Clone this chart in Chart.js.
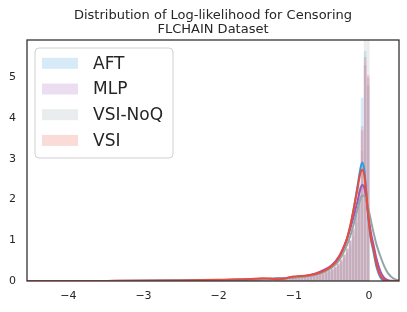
<!DOCTYPE html>
<html>
<head>
<meta charset="utf-8">
<script src="https://cdn.jsdelivr.net/npm/chart.js@4.4.1/dist/chart.umd.min.js"></script>
<style>
html,body{margin:0;padding:0;background:#fff;}
#wrap{width:407px;height:312px;}
</style>
</head>
<body>
<div id="wrap"><canvas id="c" width="407" height="312"></canvas></div>
<script>
const TITLE_LINES = ["Distribution of Log-likelihood for Censoring", "FLCHAIN Dataset"];
const SERIES = ["AFT", "MLP", "VSI-NoQ", "VSI"];
const COLORS = ["#3498db", "#9b59b6", "#95a5a6", "#e74c3c"];
const X_TICKS = [-4, -3, -2, -1, 0];
const Y_TICKS = [0, 1, 2, 3, 4, 5];

// histogram bin centres (bin width 0.04)
const HIST_X = [-1.97,-1.93,-1.89,-1.85,-1.81,-1.77,-1.73,-1.69,-1.65,-1.61,
  -1.57,-1.53,-1.49,-1.45,-1.41,-1.37,-1.33,-1.29,-1.25,-1.21,
  -1.17,-1.13,-1.09,-1.05,-1.01,-0.97,-0.93,-0.89,-0.85,-0.81,
  -0.77,-0.73,-0.69,-0.65,-0.61,-0.57,-0.53,-0.49,-0.45,-0.41,
  -0.37,-0.33,-0.29,-0.25,-0.21,-0.17,-0.13,-0.09,-0.05,-0.01];
const HIST_AFT = [0.02,0.02,0.02,0.02,0.03,0.03,0.03,0.03,0.03,0.03,
  0.04,0.04,0.05,0.05,0.04,0.05,0.05,0.05,0.05,0.06,
  0.06,0.06,0.07,0.07,0.08,0.08,0.09,0.1,0.1,0.11,
  0.12,0.13,0.15,0.17,0.19,0.22,0.25,0.29,0.34,0.41,
  0.5,0.63,0.78,0.98,1.28,1.7,2.4,4.5,5.65,4.8];
const HIST_MLP = [0.02,0.02,0.03,0.02,0.02,0.03,0.03,0.03,0.03,0.03,
  0.04,0.04,0.04,0.05,0.05,0.05,0.05,0.05,0.06,0.06,
  0.06,0.06,0.07,0.07,0.08,0.09,0.09,0.1,0.11,0.12,
  0.13,0.14,0.16,0.18,0.21,0.24,0.27,0.31,0.37,0.44,
  0.54,0.66,0.8,1.0,1.25,1.6,2.2,3.8,5.3,5.0];
const HIST_NOQ = [0.02,0.02,0.02,0.02,0.02,0.03,0.03,0.03,0.03,0.03,
  0.03,0.04,0.04,0.04,0.05,0.05,0.04,0.05,0.05,0.05,
  0.06,0.06,0.06,0.07,0.07,0.08,0.08,0.09,0.1,0.1,
  0.11,0.12,0.14,0.16,0.18,0.2,0.23,0.27,0.32,0.38,
  0.46,0.57,0.7,0.88,1.1,1.45,2.0,3.2,6.5,6.2];
const HIST_VSI = [0.02,0.02,0.03,0.02,0.03,0.03,0.03,0.04,0.03,0.03,
  0.04,0.05,0.06,0.09,0.05,0.06,0.05,0.05,0.04,0.05,
  0.06,0.05,0.07,0.06,0.08,0.09,0.1,0.09,0.11,0.11,
  0.12,0.13,0.15,0.17,0.2,0.22,0.26,0.3,0.35,0.42,
  0.52,0.65,0.8,1.0,1.3,1.7,2.3,3.7,5.5,5.06];

// KDE curves
const KDE_X = [-4.55,-4,-3.5,-3,-2.5,-2,-1.8,-1.6,-1.4,-1.3,-1.2,-1.1,-1.0,-0.9,-0.8,-0.7,-0.6,-0.5,-0.4,-0.3,-0.25,-0.2,-0.15,-0.12,-0.09,-0.06,-0.03,0,0.03,0.06,0.1,0.15,0.2,0.25,0.3,0.35,0.4];
const KDE_AFT = [0,0.001,0.002,0.005,0.012,0.025,0.03,0.04,0.05,0.055,0.065,0.075,0.09,0.11,0.13,0.17,0.24,0.35,0.56,0.98,1.32,1.8,2.35,2.7,2.91,2.7,2.05,1.4,0.98,0.72,0.35,0.1,0.01,0,0,0,0];
const KDE_MLP = [0,0.001,0.002,0.005,0.012,0.025,0.03,0.04,0.05,0.055,0.065,0.075,0.09,0.11,0.14,0.19,0.27,0.38,0.6,1.0,1.27,1.6,1.98,2.22,2.36,2.28,1.95,1.5,1.15,0.9,0.55,0.25,0.08,0.02,0.004,0,0];
const KDE_NOQ = [0,0.001,0.002,0.004,0.01,0.022,0.027,0.035,0.045,0.05,0.06,0.07,0.08,0.1,0.12,0.16,0.22,0.32,0.5,0.85,1.1,1.42,1.78,1.98,2.1,2.09,1.95,1.72,1.45,1.2,0.9,0.62,0.38,0.2,0.1,0.04,0.015];
const KDE_VSI = [0,0.001,0.003,0.006,0.015,0.03,0.035,0.045,0.065,0.055,0.045,0.07,0.11,0.12,0.14,0.18,0.25,0.36,0.58,1.0,1.35,1.8,2.3,2.6,2.73,2.58,2.05,1.45,1.02,0.8,0.42,0.14,0.03,0.005,0,0,0];

const HISTS = [HIST_AFT, HIST_MLP, HIST_NOQ, HIST_VSI];
const KDES = [KDE_AFT, KDE_MLP, KDE_NOQ, KDE_VSI];

function rgba(hex, a) {
  const n = parseInt(hex.slice(1), 16);
  return `rgba(${(n>>16)&255},${(n>>8)&255},${n&255},${a})`;
}

const FONT = "'DejaVu Sans', sans-serif";
const TXT = "#262626";

const datasets = [];
SERIES.forEach((name, i) => {
  datasets.push({
    type: 'bar', label: name + ' hist', grouped: false,
    data: HIST_X.map((x, j) => ({x: x, y: HISTS[i][j]})),
    backgroundColor: rgba(COLORS[i], 0.2), borderWidth: 0,
    barPercentage: 0.9, categoryPercentage: 1.0, order: 20 - i
  });
});
SERIES.forEach((name, i) => {
  datasets.push({
    type: 'line', label: name,
    data: KDE_X.map((x, j) => ({x: x, y: KDES[i][j]})),
    borderColor: COLORS[i], borderWidth: 2, pointRadius: 0, fill: false,
    cubicInterpolationMode: 'monotone', order: 10 - i
  });
});

const decor = {
  id: 'decor',
  afterDraw(chart) {
    const ctx = chart.ctx, a = chart.chartArea;
    ctx.save();
    // frame
    ctx.strokeStyle = '#333333';
    ctx.lineWidth = 1.3;
    ctx.strokeRect(a.left, a.top, a.right - a.left, a.bottom - a.top);
    // title
    ctx.fillStyle = TXT;
    ctx.font = "13px " + FONT;
    ctx.textAlign = 'center';
    ctx.textBaseline = 'alphabetic';
    const cx = (a.left + a.right) / 2;
    ctx.fillText(TITLE_LINES[0], cx, 19);
    ctx.fillText(TITLE_LINES[1], cx, 33);
    // legend
    const bx = 35, by = 48, bw = 138, bh = 110, r = 4;
    ctx.beginPath();
    ctx.moveTo(bx + r, by);
    ctx.arcTo(bx + bw, by, bx + bw, by + bh, r);
    ctx.arcTo(bx + bw, by + bh, bx, by + bh, r);
    ctx.arcTo(bx, by + bh, bx, by, r);
    ctx.arcTo(bx, by, bx + bw, by, r);
    ctx.closePath();
    ctx.fillStyle = 'rgba(255,255,255,0.8)';
    ctx.fill();
    ctx.strokeStyle = '#d0d0d0';
    ctx.lineWidth = 1;
    ctx.stroke();
    ctx.font = "17px " + FONT;
    ctx.textAlign = 'left';
    ctx.textBaseline = 'middle';
    SERIES.forEach((name, i) => {
      const cy = 63.3 + i * 25.7;
      ctx.fillStyle = rgba(COLORS[i], 0.2);
      ctx.fillRect(42, cy - 5.5, 36, 11);
      ctx.fillStyle = TXT;
      ctx.fillText(name, 93, cy + 1);
    });
    ctx.restore();
  }
};

new Chart(document.getElementById('c'), {
  type: 'bar',
  data: { datasets },
  options: {
    responsive: false, animation: false, devicePixelRatio: 1,
    layout: { padding: { top: 40, right: 8, left: 0, bottom: 0 } },
    plugins: { legend: { display: false }, title: { display: false }, tooltip: { enabled: false } },
    scales: {
      x: {
        type: 'linear', min: -4.55, max: 0.4, offset: false,
        grid: { display: false, drawTicks: false }, border: { display: false },
        ticks: { font: { family: FONT, size: 11 }, color: TXT, padding: 9, maxRotation: 0, autoSkip: false,
          callback: v => String(v).replace('-', '\u2212') },
        afterBuildTicks: s => { s.ticks = X_TICKS.map(v => ({ value: v })); },
        afterFit: s => { s.height = 31; }
      },
      y: {
        min: 0, max: 5.92,
        grid: { display: false, drawTicks: false }, border: { display: false },
        ticks: { font: { family: FONT, size: 11 }, color: TXT, padding: 11 },
        afterBuildTicks: s => { s.ticks = Y_TICKS.map(v => ({ value: v })); },
        afterFit: s => { s.width = 27; }
      }
    }
  },
  plugins: [decor]
});
</script>
</body>
</html>
